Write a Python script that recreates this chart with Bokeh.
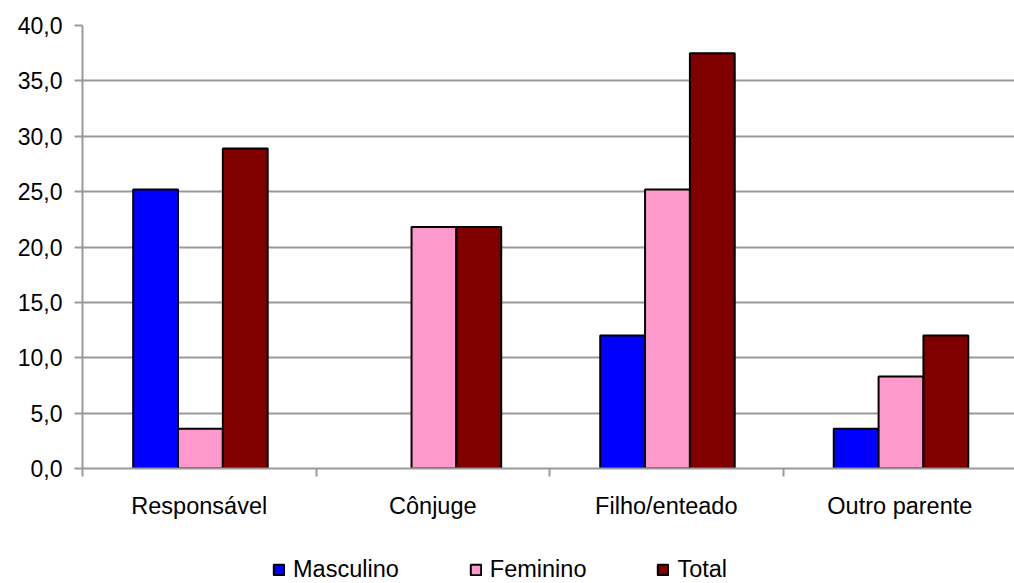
from bokeh.plotting import figure
from bokeh.layouts import column
from bokeh.models import (ColumnDataSource, Range1d, FixedTicker, CustomJSTickFormatter,
                          Legend, LegendItem)
from bokeh.embed import file_html
from bokeh.resources import INLINE

categories = ["Responsável", "Cônjuge", "Filho/enteado", "Outro parente"]
series_names = ["Masculino", "Feminino", "Total"]
masculino = [25.2, 0.0, 12.0, 3.6]
feminino = [3.6, 21.8, 25.2, 8.3]
total = [28.9, 21.8, 37.5, 12.0]
y_ticks = [0, 5, 10, 15, 20, 25, 30, 35, 40]

colors = ["#0000FF", "#FF99CC", "#800000"]
FONT = "Liberation Sans"
GRID = "#999999"

p = figure(width=1014, height=535, output_backend="svg", toolbar_location=None,
           x_range=Range1d(0, 3.991), y_range=Range1d(0, 40),
           min_border_left=82, min_border_right=0, min_border_top=25,
           min_border_bottom=67)
p.outline_line_color = None
p.background_fill_color = "white"
p.border_fill_color = "white"

bar_w = 0.192
offsets = [-bar_w, 0.0, bar_w]
for name, vals, off, col in zip(series_names, [masculino, feminino, total], offsets, colors):
    xs = [i + 0.505 + off for i, v in enumerate(vals) if v > 0]
    tops = [v for v in vals if v > 0]
    src = ColumnDataSource(dict(x=xs, top=tops))
    p.vbar(x="x", top="top", bottom=0, width=bar_w, source=src,
           fill_color=col, line_color="black", line_width=2)

# Y axis
p.yaxis.ticker = FixedTicker(ticks=y_ticks)
p.yaxis.formatter = CustomJSTickFormatter(code="return tick.toFixed(1).replace('.', ',');")
p.yaxis.axis_line_color = GRID
p.yaxis.axis_line_width = 2
p.yaxis.major_tick_line_color = GRID
p.yaxis.major_tick_line_width = 2
p.yaxis.major_tick_out = 8
p.yaxis.major_tick_in = 0
p.yaxis.minor_tick_line_color = None
p.yaxis.major_label_text_font = FONT
p.yaxis.major_label_text_font_size = "23px"
p.yaxis.major_label_text_color = "black"
p.yaxis.major_label_standoff = 12

# X axis: labels at category centres, ticks at boundaries
p.xaxis.ticker = FixedTicker(ticks=[i + 0.5 for i in range(len(categories))],
                             minor_ticks=list(range(len(categories) + 1)))
p.xaxis.formatter = CustomJSTickFormatter(args=dict(cats=categories),
                                          code="return cats[Math.floor(tick)];")
p.xaxis.axis_line_color = GRID
p.xaxis.axis_line_width = 2
p.xaxis.major_tick_line_color = None
p.xaxis.major_tick_out = 0
p.xaxis.major_tick_in = 0
p.xaxis.minor_tick_line_color = GRID
p.xaxis.minor_tick_line_width = 2
p.xaxis.minor_tick_out = 8
p.xaxis.minor_tick_in = 0
p.xaxis.major_label_text_font = FONT
p.xaxis.major_label_text_font_size = "23.5px"
p.xaxis.major_label_text_color = "black"
p.xaxis.major_label_standoff = 16

p.xgrid.grid_line_color = None
p.ygrid.ticker = FixedTicker(ticks=y_ticks)
p.ygrid.grid_line_color = GRID
p.ygrid.grid_line_width = 2

# Legend strip below the chart (its frame is aligned with the chart frame)
lg = figure(width=1014, height=48, output_backend="svg", toolbar_location=None,
            x_range=Range1d(0, 1), y_range=Range1d(0, 1),
            min_border_left=82, min_border_right=0, min_border_top=0, min_border_bottom=0,
            x_axis_type=None, y_axis_type=None)
lg.outline_line_color = None
lg.grid.grid_line_color = None
lg.border_fill_color = "white"
items = []
for name, vals, col in zip(series_names, [masculino, feminino, total], colors):
    src = ColumnDataSource(dict(x=list(range(len(vals))), top=vals))
    r = lg.vbar(x="x", top="top", width=0.1, source=src, fill_color=col,
                line_color="black", line_width=2, visible=False)
    items.append(LegendItem(label=name, renderers=[r]))
legend = Legend(items=items, location=(190, 0), orientation="horizontal", spacing=70,
                glyph_width=13, glyph_height=13, label_standoff=8, padding=0, margin=0,
                border_line_color=None, background_fill_alpha=0, click_policy="none",
                inactive_fill_alpha=0,
                label_text_font=FONT, label_text_font_size="23.5px", label_text_color="black")
lg.add_layout(legend, "center")

layout = column(p, lg, spacing=0)
open("out.html", "w").write(file_html(layout, INLINE))
